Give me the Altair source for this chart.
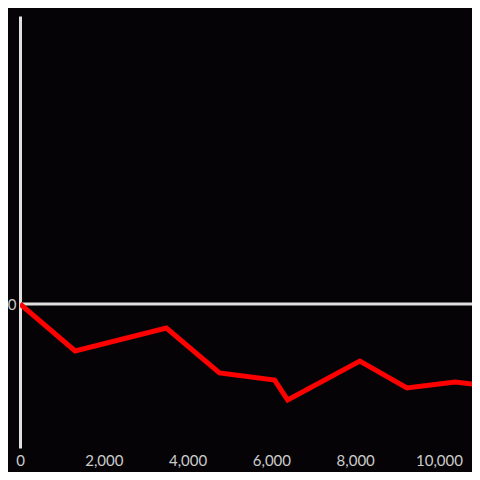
import altair as alt
import pandas as pd

xs = [0, 1316, 3493, 4761, 6077, 6388, 8110, 9234, 10383, 10980]
ys = [0, -32.6, -16.7, -47.9, -52.8, -66.7, -39.6, -58.3, -54.2, -56.3]
x_ticks = [0, 2000, 4000, 6000, 8000, 10000]

df = pd.DataFrame({"x": xs, "y": ys})

xscale = alt.Scale(domain=[0, 10787], nice=False, zero=False)
yscale = alt.Scale(domain=[-100, 200], nice=False)

line = alt.Chart(df).mark_line(color="#ff0000", strokeWidth=5, clip=True).encode(
    x=alt.X("x:Q", scale=xscale,
            axis=alt.Axis(title=None, domain=False, ticks=False, grid=False,
                          values=x_ticks, format=",d",
                          labelColor="#cccccc", labelFontSize=15, labelPadding=5,
                          labelFlush=False)),
    y=alt.Y("y:Q", scale=yscale,
            axis=alt.Axis(title=None, ticks=False, grid=False, values=[0],
                          domainColor="#e0e0e0", domainWidth=3,
                          labelColor="#cccccc", labelFontSize=15, labelPadding=4)),
)

zero = alt.Chart(pd.DataFrame({"y": [0]})).mark_rule(color="#e0e0e0", strokeWidth=3).encode(
    y=alt.Y("y:Q", scale=yscale)
)

chart = alt.layer(zero, line).properties(
    width=452, height=432,
    autosize=alt.AutoSizeParams(type="none"),
    padding={"left": 12, "top": 8, "right": 0, "bottom": 24},
    background="#050305",
).configure_view(stroke=None).configure_axis(labelFont="Lato")

chart.save("out.html", embed_options={"renderer": "svg", "actions": False})
